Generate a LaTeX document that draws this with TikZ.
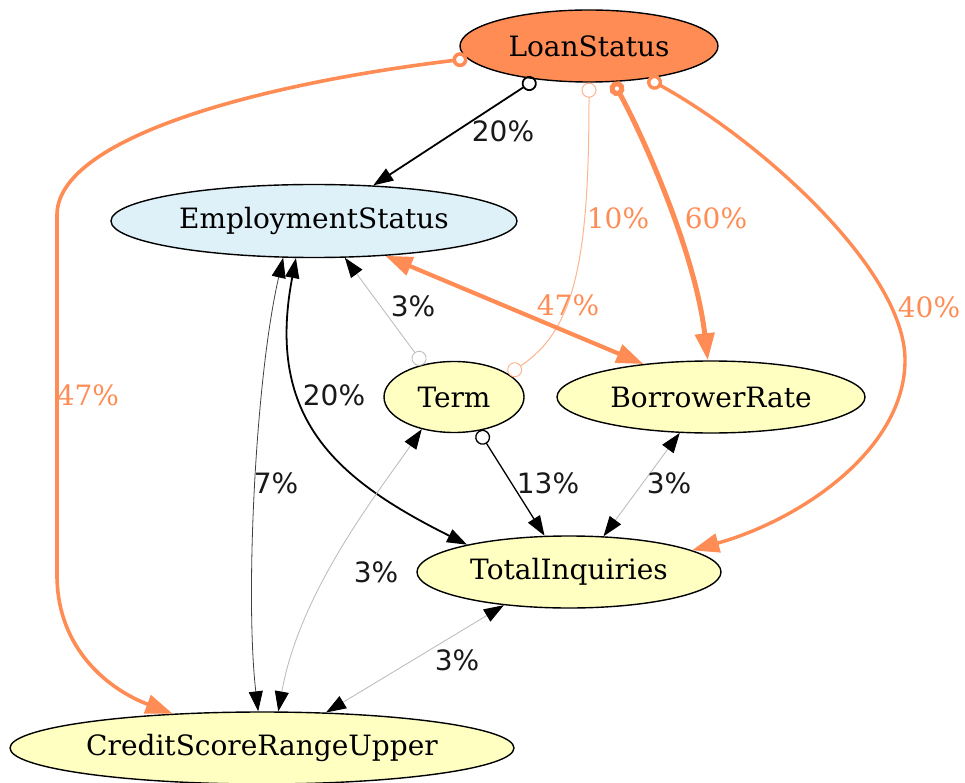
\documentclass[tikz,border=0pt]{standalone}
\usepackage{fontspec}
\setmainfont{DejaVu Serif}
\newfontfamily\lblsans{DejaVu Sans}
\usetikzlibrary{arrows.meta,shapes.geometric}

\definecolor{lsorange}{HTML}{FF8C55}
\definecolor{paleorange}{HTML}{FFB38F}
\definecolor{esblue}{HTML}{DFF1F8}
\definecolor{nodeyellow}{HTML}{FFFFC2}
\definecolor{edgegray}{HTML}{BEBEBE}

\tikzset{
  var/.style={ellipse, draw=black, line width=1.4pt, inner sep=0pt,
    font=\fontsize{28}{32}\selectfont},
  lbl/.style={inner sep=0pt, font=\lblsans\fontsize{28}{32}\selectfont, text=black!90},
  olbl/.style={inner sep=0pt, font=\fontsize{28}{32}\selectfont, text=lsorange},
  otip/.tip={Circle[open,length=15pt,width=15pt]},
  stip/.tip={Triangle[length=20pt,width=14pt,fill=black,color=black]},
  btip/.tip={Triangle[length=27pt,width=19pt]},
}

\begin{document}
\begin{tikzpicture}[x=1pt,y=-1pt]
\useasboundingbox (0,0) rectangle (965,783);

% variables
\node[var, fill=lsorange, minimum width=258pt, minimum height=72pt] (LS) at (589,46) {LoanStatus};
\node[var, fill=esblue, minimum width=406pt, minimum height=73pt] (ES) at (314,221) {EmploymentStatus};
\node[var, fill=nodeyellow, minimum width=140pt, minimum height=71pt] (TM) at (454,397) {Term};
\node[var, fill=nodeyellow, minimum width=308pt, minimum height=72pt] (BR) at (711,397) {BorrowerRate};
\node[var, fill=nodeyellow, minimum width=304pt, minimum height=72pt] (TI) at (569,572) {TotalInquiries};
\node[var, fill=nodeyellow, minimum width=504pt, minimum height=72pt] (CS) at (262,748) {CreditScoreRangeUpper};

% edges from LoanStatus
\draw[lsorange, line width=3.6pt, otip-btip]
  (LS.186) .. controls (250,85) and (57,140) .. (57,215) -- (57,575)
  .. controls (57,650) and (110,690) .. (CS.159);
\draw[black, line width=1.8pt, otip-stip] (LS.212) -- (ES.31);
\draw[paleorange, line width=1pt, otip-otip]
  (LS.270) .. controls (589,260) and (575,330) .. (TM.23);
\draw[lsorange, line width=5pt, otip-btip]
  (LS.304) .. controls (640,130) and (695,250) .. (BR.95);
\draw[lsorange, line width=3.4pt, otip-btip]
  (LS.331) .. controls (760,140) and (905,270) .. (905,360)
  .. controls (905,450) and (800,520) .. (TI.10);

% remaining edges
\draw[lsorange, line width=4.2pt, btip-btip] (ES.334) -- (BR.154);
\draw[edgegray, line width=0.9pt, otip-stip] (TM.133) -- (ES.310);
\draw[black, line width=1.8pt, stip-stip]
  (ES.244) .. controls (265,420) and (338,480) .. (TI.165);
\draw[black!75, line width=0.8pt, stip-stip]
  (ES.230) .. controls (255,380) and (245,600) .. (CS.96);
\draw[edgegray, line width=0.9pt, stip-stip]
  (TM.225) .. controls (380,490) and (300,590) .. (CS.66);
\draw[black, line width=1.3pt, otip-stip] (TM.306) -- (TI.124);
\draw[edgegray, line width=0.9pt, stip-stip] (BR.229) -- (TI.46);
\draw[edgegray, line width=0.9pt, stip-stip] (TI.207) -- (CS.29);

% edge labels
\node[olbl] (l1) at (88,395) {47\%};
\node[lbl] (l2) at (503,131) {20\%};
\node[olbl] (l3) at (618,218) {10\%};
\node[olbl] (l4) at (716,218) {60\%};
\node[olbl] (l5) at (929,307) {40\%};
\node[olbl] (l6) at (568,305) {47\%};
\node[lbl] (l7) at (413,306) {3\%};
\node[lbl] (l8) at (334,395) {20\%};
\node[lbl] (l9) at (276,483) {7\%};
\node[lbl] (l10) at (548,483) {13\%};
\node[lbl] (l11) at (669,483) {3\%};
\node[lbl] (l12) at (376,572) {3\%};
\node[lbl] (l13) at (457,660) {3\%};
\end{tikzpicture}
\end{document}
